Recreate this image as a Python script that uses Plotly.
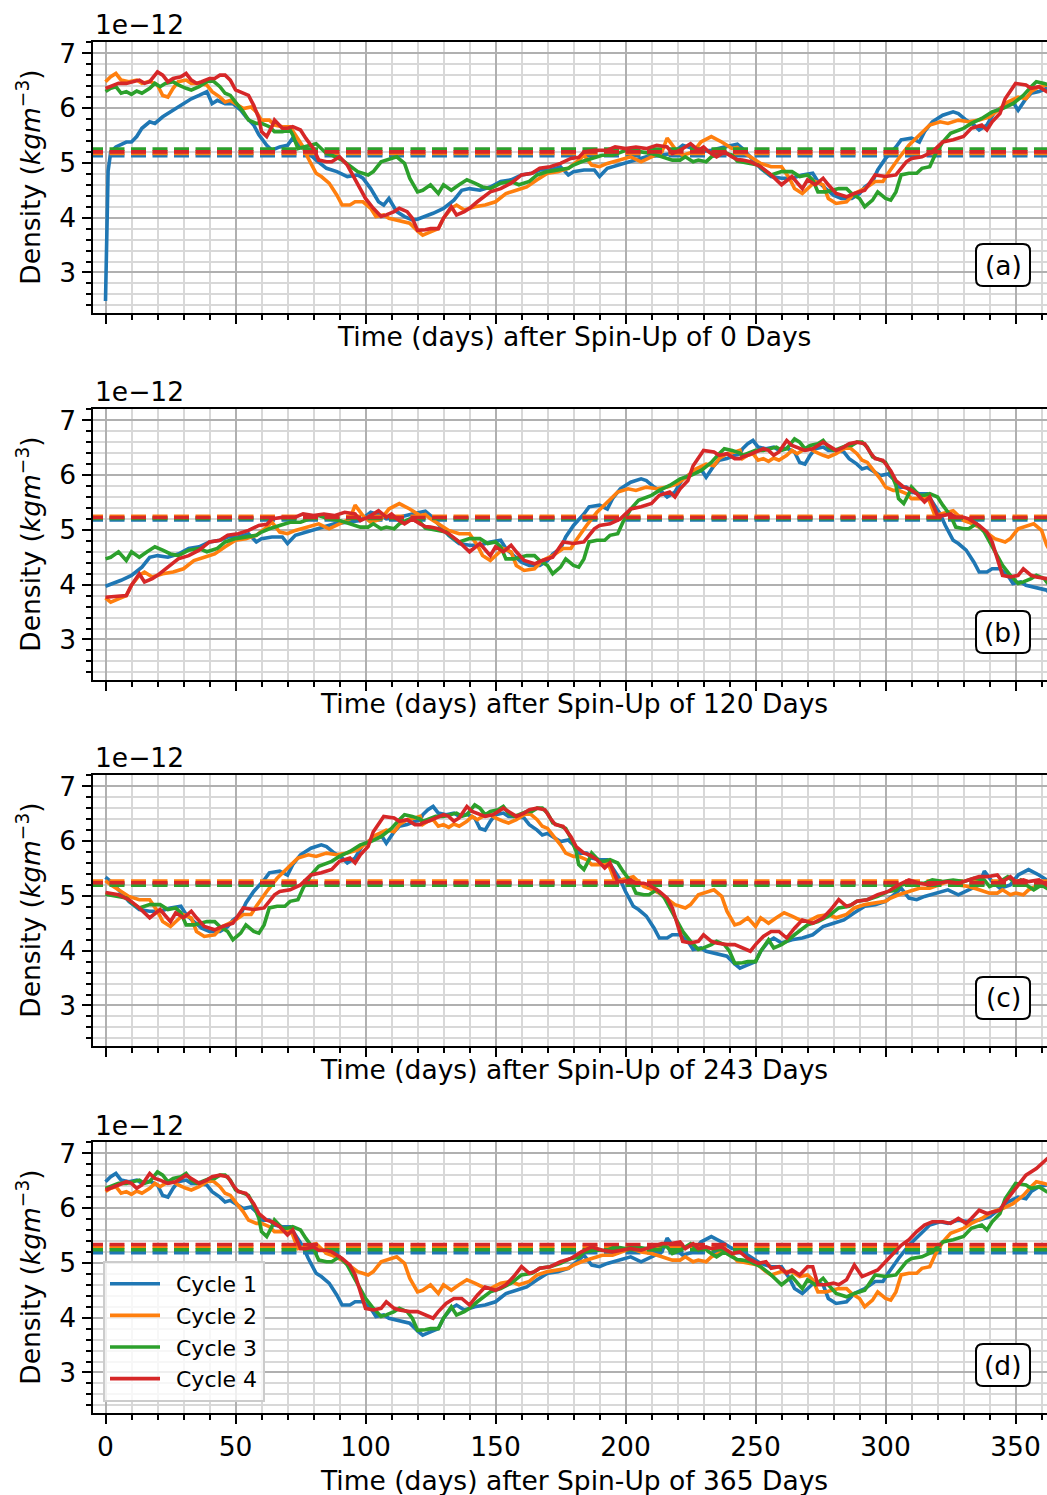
import plotly.graph_objects as go

# ---------------- data (density in units of 1e-12 kg m^-3) ----------------
# Yearly density records; each cycle's curve in a panel is the
# record of consecutive years seen from the panel's spin-up day onwards.
YEAR_1 = [(0,2.48),(1,4.85),(2,5.20),(4,5.29),(8,5.38),(10,5.38),(12,5.48),(14,5.63),(17,5.75),(19,5.72),(22,5.84),(26,5.96),(29,6.05),(33,6.17),(36,6.23),(39,6.30),(41,6.08),(43,6.14),(46,6.08),(49,6.08),(52,5.96),(54,5.84),(57,5.69),(59,5.51),(62,5.32),(64,5.23),(67,5.29),(70,5.32),(72,5.45),(75,5.29),(77,5.23),(81,5.05),(85,4.90),(89,4.84),(93,4.75),(97,4.78),(99,4.72),(102,4.53),(105,4.29),(107,4.23),(109,4.35),(112,4.11),(115,4.02),(118,3.96),(120,3.97),(123,4.02),(126,4.08),(130,4.17),(134,4.32),(137,4.50),(140,4.53),(144,4.50),(148,4.56),(152,4.66),(156,4.69),(160,4.78),(164,4.81),(167,4.87),(171,4.87),(175,4.93),(178,4.78),(180,4.84),(184,4.87),(188,4.87),(190,4.75),(193,4.90),(197,4.96),(202,5.03),(208,5.11),(213,5.14),(218,5.17),(222,5.32),(226,5.26),(228,5.20),(233,5.23),(238,5.29),(243,5.34),(245,5.26),(248,5.11),(252,4.90),(256,4.75),(260,4.72),(264,4.72),(268,4.78),(272,4.81),(274,4.66),(277,4.53),(280,4.41),(283,4.35),(287,4.35),(290,4.44),(292,4.56),(295,4.66),(297,4.87),(300,5.08),(304,5.29),(306,5.42),(310,5.45),(313,5.38),(315,5.57),(318,5.75),(322,5.87),(326,5.93),(328,5.90),(331,5.78),(334,5.69),(336,5.60),(339,5.69),(342,5.93),(346,6.05),(349,6.11),(351,5.96),(354,6.17),(356,6.27),(359,6.30),(362,6.36),(364,6.38)]

YEAR_2 = [(0,6.48),(2,6.57),(4,6.63),(6,6.51),(9,6.48),(12,6.51),(14,6.45),(17,6.49),(20,6.42),(22,6.23),(24,6.20),(26,6.36),(28,6.48),(31,6.51),(33,6.45),(36,6.45),(39,6.42),(41,6.30),(44,6.20),(46,6.11),(48,6.14),(50,6.08),(53,5.99),(56,6.02),(58,5.93),(60,5.78),(63,5.78),(65,5.69),(68,5.66),(71,5.66),(73,5.51),(76,5.29),(78,5.08),(81,4.81),(83,4.75),(86,4.63),(89,4.41),(91,4.23),(94,4.23),(96,4.29),(99,4.29),(102,4.17),(104,4.02),(107,4.05),(109,3.99),(112,3.96),(114,3.93),(117,3.90),(120,3.76),(122,3.68),(125,3.74),(128,3.80),(130,3.99),(133,4.17),(135,4.23),(138,4.14),(142,4.20),(146,4.23),(150,4.29),(154,4.44),(158,4.50),(162,4.56),(166,4.69),(170,4.81),(174,4.84),(178,4.90),(182,5.05),(184,5.14),(187,4.96),(190,4.93),(193,4.99),(198,5.05),(202,5.11),(206,5.02),(210,5.11),(214,5.20),(216,5.45),(219,5.26),(222,5.14),(226,5.20),(229,5.38),(233,5.48),(237,5.38),(241,5.26),(243,5.28),(245,5.20),(248,5.11),(252,4.99),(256,4.93),(260,4.93),(263,4.72),(265,4.53),(268,4.44),(270,4.53),(273,4.66),(276,4.60),(278,4.35),(281,4.26),(285,4.29),(288,4.44),(292,4.53),(296,4.66),(299,4.66),(301,4.81),(305,5.08),(309,5.32),(313,5.51),(317,5.69),(321,5.75),(324,5.72),(328,5.78),(332,5.75),(336,5.78),(340,5.84),(344,5.99),(347,6.11),(351,6.20),(354,6.17),(356,6.30),(359,6.39),(362,6.42),(364,6.45)]

YEAR_3 = [(0,6.30),(2,6.36),(4,6.39),(6,6.27),(8,6.30),(10,6.25),(12,6.31),(14,6.27),(17,6.36),(19,6.45),(21,6.39),(23,6.45),(26,6.48),(28,6.42),(31,6.36),(33,6.33),(36,6.39),(39,6.48),(41,6.51),(44,6.39),(46,6.27),(48,6.23),(50,6.11),(53,5.93),(55,5.78),(58,5.72),(60,5.72),(63,5.66),(65,5.57),(68,5.57),(71,5.60),(72,5.51),(74,5.26),(78,5.32),(81,5.35),(85,5.17),(87,5.14),(91,5.05),(95,4.90),(97,4.84),(101,4.78),(103,4.84),(106,5.02),(108,5.05),(112,5.11),(115,4.99),(117,4.72),(120,4.47),(122,4.50),(125,4.60),(128,4.44),(130,4.60),(133,4.50),(136,4.60),(139,4.69),(142,4.63),(145,4.56),(148,4.53),(152,4.63),(156,4.66),(159,4.60),(163,4.66),(166,4.78),(170,4.84),(174,4.87),(178,4.90),(180,4.96),(183,5.02),(187,5.08),(191,5.14),(195,5.14),(199,5.20),(202,5.26),(206,5.20),(210,5.17),(214,5.11),(218,5.05),(221,5.05),(223,5.11),(226,5.02),(228,5.05),(231,5.02),(233,5.11),(237,5.20),(241,5.14),(243,5.03),(244,5.02),(247,4.99),(251,4.96),(254,4.84),(256,4.78),(260,4.84),(264,4.84),(267,4.75),(270,4.78),(272,4.69),(274,4.47),(277,4.47),(280,4.50),(282,4.53),(285,4.53),(287,4.44),(290,4.35),(292,4.20),(295,4.32),(297,4.47),(300,4.35),(302,4.32),(304,4.47),(306,4.78),(309,4.81),(312,4.81),(314,4.90),(317,4.93),(319,5.14),(322,5.38),(325,5.54),(327,5.57),(330,5.63),(333,5.72),(337,5.81),(341,5.93),(345,5.99),(349,6.08),(353,6.23),(356,6.39),(358,6.48),(361,6.45),(364,6.40)]

YEAR_4 = [(0,6.36),(2,6.39),(5,6.45),(8,6.45),(10,6.48),(13,6.51),(15,6.45),(17,6.48),(20,6.66),(22,6.60),(24,6.48),(26,6.54),(29,6.57),(31,6.63),(33,6.51),(35,6.45),(37,6.48),(40,6.54),(42,6.54),(44,6.60),(46,6.60),(48,6.51),(50,6.33),(53,6.27),(55,6.23),(57,6.05),(59,5.81),(60,5.57),(62,5.48),(64,5.66),(65,5.78),(68,5.63),(70,5.63),(72,5.66),(75,5.60),(77,5.45),(80,5.26),(82,5.05),(85,5.02),(87,5.02),(90,5.11),(93,4.96),(95,4.78),(98,4.53),(100,4.35),(103,4.17),(106,4.02),(108,4.05),(111,4.11),(113,4.17),(116,4.11),(118,3.99),(120,3.77),(123,3.78),(125,3.80),(128,3.80),(130,3.99),(133,4.20),(135,4.05),(138,4.11),(140,4.17),(143,4.29),(146,4.41),(148,4.47),(152,4.53),(156,4.63),(160,4.78),(164,4.81),(167,4.90),(171,4.93),(175,4.99),(179,5.08),(182,5.10),(184,5.20),(188,5.23),(193,5.23),(196,5.29),(200,5.26),(204,5.29),(208,5.26),(212,5.32),(216,5.29),(218,5.17),(221,5.23),(225,5.35),(228,5.23),(230,5.29),(232,5.20),(235,5.11),(238,5.20),(241,5.11),(243,5.06),(245,5.05),(248,5.02),(252,4.93),(256,4.78),(260,4.60),(264,4.75),(268,4.53),(270,4.69),(273,4.60),(276,4.72),(278,4.60),(281,4.44),(285,4.38),(288,4.44),(292,4.50),(296,4.78),(300,4.75),(304,4.78),(308,5.02),(310,5.08),(314,5.11),(318,5.20),(322,5.38),(326,5.42),(330,5.48),(333,5.63),(337,5.69),(339,5.60),(341,5.75),(344,5.90),(346,6.17),(350,6.45),(354,6.42),(356,6.36),(359,6.39),(362,6.30),(364,6.30)]

YEAR_5 = [(0,6.33),(2,6.36),(5,6.42),(8,6.48),(10,6.45),(12,6.36),(14,6.42),(17,6.63),(19,6.54),(21,6.51),(24,6.45),(27,6.48),(31,6.60),(33,6.54),(36,6.45),(39,6.51),(41,6.57),(44,6.60),(47,6.57),(49,6.42),(51,6.30),(54,6.27),(57,6.08),(59,5.90),(62,5.78),(64,5.75),(67,5.66),(70,5.51),(72,5.60),(75,5.26),(77,5.26),(80,5.29),(82,5.23),(85,5.23),(87,5.20),(91,5.08),(94,4.96),(96,4.78),(98,4.47),(100,4.17),(103,4.14),(106,4.17),(108,4.29),(111,4.17),(113,4.14),(117,4.11),(120,4.11),(123,4.05),(126,3.99),(128,4.11),(131,4.26),(134,4.35),(137,4.35),(140,4.23),(143,4.41),(146,4.56),(150,4.50),(154,4.60),(157,4.75),(160,4.93),(163,4.81),(165,4.84),(167,4.90),(171,4.93),(175,5.02),(179,5.08),(181,5.14),(183,5.20),(187,5.29),(191,5.23),(195,5.20),(199,5.23),(202,5.26),(206,5.23),(210,5.29),(214,5.35),(217,5.35),(221,5.38),(223,5.26),(226,5.35),(228,5.26),(231,5.29),(233,5.26),(237,5.29),(241,5.17),(244,5.20),(247,5.08),(251,4.99),(254,5.02),(256,4.90),(259,4.93),(262,4.81),(264,4.87),(267,4.78),(270,4.93),(272,4.93),(274,4.60),(277,4.60),(280,4.63),(282,4.60),(285,4.69),(288,4.96),(291,4.75),(294,4.81),(297,4.87),(300,5.02),(303,5.17),(306,5.32),(309,5.42),(312,5.57),(315,5.69),(318,5.75),(322,5.75),(325,5.72),(328,5.81),(331,5.72),(333,5.81),(336,5.96),(339,5.90),(341,5.93),(344,5.96),(346,6.11),(350,6.36),(354,6.60),(358,6.72),(361,6.84),(364,6.98)]

YEARS = [YEAR_1, YEAR_2, YEAR_3, YEAR_4, YEAR_5]
YEAR_LENGTH = 365
SPIN_UPS = [0, 120, 243, 365]
PANEL_LABELS = ["(a)", "(b)", "(c)", "(d)"]
CYCLE_NAMES = ["Cycle 1", "Cycle 2", "Cycle 3", "Cycle 4"]
COLORS = ["#1f77b4", "#ff7f0e", "#2ca02c", "#d62728"]
# mean density of each cycle (dashed lines), per panel
MEAN_LINES = [
    [5.13, 5.17, 5.25, 5.20],
    [5.18, 5.245, 5.21, 5.225],
    [5.22, 5.27, 5.195, 5.24],
    [5.185, 5.29, 5.24, 5.335],
]
X_TICKS = [0, 50, 100, 150, 200, 250, 300, 350]
Y_TICKS = [3, 4, 5, 6, 7]

# ---------------- layout geometry (pixels) ----------------
W, H = 1047, 1495
PLOT_LEFT = 92.5
PANEL_TOPS = [42, 409, 775, 1142]
PANEL_H = 271.3
X_RANGE = [-5, 362.1]
Y_RANGE = [2.255, 7.205]
FONT = "DejaVu Sans"
FS = 26.5
LW = 3.6


def px(x):
    return x / W


def py(y):
    return 1 - y / H


def cycle_series(k, spin):
    xs, ys = [], []
    for j in range(k, len(YEARS)):
        for d, v in YEARS[j]:
            x = d + YEAR_LENGTH * (j - k) - spin
            if 0 <= x <= 366:
                xs.append(x)
                ys.append(v)
    return xs, ys


fig = go.Figure()
layout = dict(
    width=W, height=H, margin=dict(l=0, r=0, t=0, b=0),
    paper_bgcolor="white", plot_bgcolor="white",
    font=dict(family=FONT, size=FS, color="black"),
    showlegend=True,
)
annotations = []
shapes = []

for p, spin in enumerate(SPIN_UPS):
    n = p + 1
    xa = "x" if n == 1 else f"x{n}"
    ya = "y" if n == 1 else f"y{n}"
    top = PANEL_TOPS[p]
    bot = top + PANEL_H
    for k in range(4):
        xs, ys = cycle_series(k, spin)
        fig.add_trace(go.Scatter(
            x=xs, y=ys, mode="lines", name="\u2002" + CYCLE_NAMES[k],
            line=dict(color=COLORS[k], width=LW),
            xaxis=xa, yaxis=ya, showlegend=(p == 3), legendrank=k + 1,
        ))
        fig.add_trace(go.Scatter(
            x=[X_RANGE[0] - 10, X_RANGE[1] + 10], y=[MEAN_LINES[p][k]] * 2,
            mode="lines", line=dict(color=COLORS[k], width=LW, dash="15px,6.5px"),
            xaxis=xa, yaxis=ya, showlegend=False, hoverinfo="skip",
        ))
    axis_common = dict(
        showline=True, linewidth=2, linecolor="black", mirror=True,
        ticks="outside", ticklen=9, tickwidth=2, tickcolor="black",
        showgrid=True, gridcolor="#b0b0b0", gridwidth=2, zeroline=False,
        automargin=False, tickfont=dict(family=FONT, size=FS, color="black"),
    )
    layout["xaxis" if n == 1 else f"xaxis{n}"] = dict(
        axis_common, domain=[px(PLOT_LEFT), 1], range=X_RANGE, anchor=ya,
        tickmode="array", tickvals=X_TICKS, showticklabels=(p == 3),
        minor=dict(dtick=10, tick0=0, ticks="outside", ticklen=5, tickwidth=1.5,
                   tickcolor="black", showgrid=True, gridcolor="#d8d8d8", gridwidth=2),
    )
    layout["yaxis" if n == 1 else f"yaxis{n}"] = dict(
        axis_common, domain=[py(bot), py(top)], range=Y_RANGE, anchor=xa,
        tickmode="array", tickvals=Y_TICKS,
        minor=dict(dtick=0.2, tick0=0, ticks="outside", ticklen=5, tickwidth=1.5,
                   tickcolor="black", showgrid=True, gridcolor="#d8d8d8", gridwidth=2),
    )
    # offset text
    annotations.append(dict(text="1e\u221212", xref="paper", yref="paper",
                            x=px(93), y=py(top - 17), xanchor="left", yanchor="middle",
                            showarrow=False, font=dict(size=FS)))
    # x title
    title_y = bot + 23 if p < 3 else 1480
    annotations.append(dict(text=f"Time (days) after Spin-Up of {spin} Days",
                            xref="paper", yref="paper", x=px(573.5), y=py(title_y),
                            xanchor="center", yanchor="middle", showarrow=False,
                            font=dict(size=FS)))
    # y title
    annotations.append(dict(text="Density (<i>kgm</i><sup>\u22123</sup>)",
                            xref="paper", yref="paper", x=px(29), y=py(top + PANEL_H / 2),
                            xanchor="center", yanchor="middle", textangle=-90,
                            showarrow=False, font=dict(size=FS)))
    # panel label with rounded box
    bx0, bx1, by0, by1, r = 976, 1030, top + 202, top + 244, 7
    path = (f"M {px(bx0 + r)} {py(by0)} L {px(bx1 - r)} {py(by0)} "
            f"Q {px(bx1)} {py(by0)} {px(bx1)} {py(by0 + r)} "
            f"L {px(bx1)} {py(by1 - r)} Q {px(bx1)} {py(by1)} {px(bx1 - r)} {py(by1)} "
            f"L {px(bx0 + r)} {py(by1)} Q {px(bx0)} {py(by1)} {px(bx0)} {py(by1 - r)} "
            f"L {px(bx0)} {py(by0 + r)} Q {px(bx0)} {py(by0)} {px(bx0 + r)} {py(by0)} Z")
    shapes.append(dict(type="path", path=path, xref="paper", yref="paper",
                       line=dict(color="black", width=2), fillcolor="white", layer="above"))
    annotations.append(dict(text=PANEL_LABELS[p], xref="paper", yref="paper",
                            x=px((bx0 + bx1) / 2), y=py((by0 + by1) / 2),
                            xanchor="center", yanchor="middle", showarrow=False,
                            font=dict(size=FS)))

layout["annotations"] = annotations
layout["shapes"] = shapes
layout["legend"] = dict(
    x=px(103), y=py(1402), xanchor="left", yanchor="bottom",
    bgcolor="rgba(255,255,255,0.8)", bordercolor="#cccccc", borderwidth=2,
    font=dict(family=FONT, size=22, color="black"), traceorder="normal",
    itemwidth=50,
)
fig.update_layout(**layout)
fig.write_html("out.html")
